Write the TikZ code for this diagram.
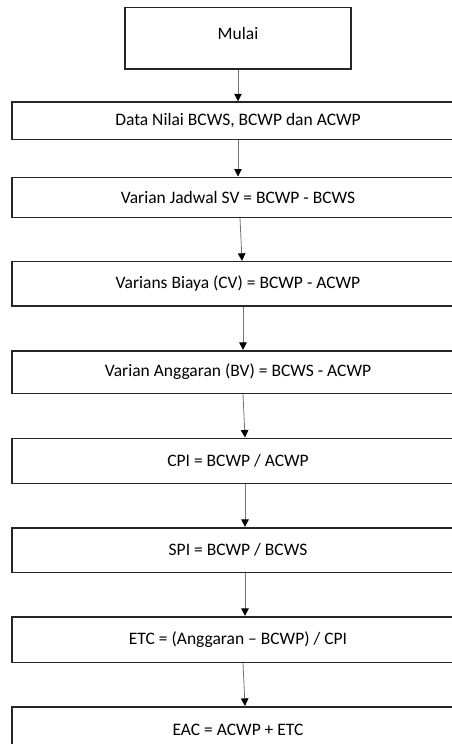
\documentclass[tikz,border=0pt]{standalone}
\usepackage{fontspec}
\setmainfont{Carlito}
\usetikzlibrary{arrows.meta}
\usetikzlibrary{positioning}

\begin{document}
\begin{tikzpicture}[x = 1pt, y = -1pt, black!85, line width = 1.6pt,
    box/.style = {draw, rectangle, inner sep = 0pt, minimum width = 452pt,
                  text = black, font = \fontsize{17.5}{20}\selectfont},
    flow/.style = {line width = 0.8pt, black!55,
                   -{Triangle[width = 7.5pt, length = 7.5pt, color = black]}}]

    \clip[use as bounding box] (0,0) rectangle (452,744);

    \def\Xmid{238}

    % start box
    \node[box, minimum width = 225.7pt, minimum height = 61.7pt, text depth = 10pt]
        (mulai) at (\Xmid, 38.2) {Mulai};

    % steps, top to bottom
    \foreach \NAME/\Y/\H/\TEXT in {
        data/120.7/37.3/{Data Nilai BCWS, BCWP dan ACWP},
        jadwal/197.3/40/{Varian Jadwal SV = BCWP - BCWS},
        biaya/283.8/44.3/{Varians Biaya (CV) = BCWP - ACWP},
        anggaran/372/42.6/{Varian Anggaran (BV) = BCWS - ACWP},
        cpi/460.8/45/{CPI = BCWP / ACWP},
        spi/550/44.6/{SPI = BCWP / BCWS},
        etc/639.5/45.6/{ETC = (Anggaran – BCWP) / CPI},
        eac/729.5/45.6/{EAC = ACWP + ETC}}
    {
        \node[box, minimum height = \H pt] (\NAME) at (\Xmid, \Y) {\TEXT};
    }

    \foreach \FROM/\TO/\DA/\DB in {mulai/data/0/0, data/jadwal/0/0, jadwal/biaya/2/4,
        biaya/anggaran/5/5, anggaran/cpi/5/7, cpi/spi/7/7, spi/etc/7/7, etc/eac/5/7}
        \draw[flow] ([xshift = \DA pt]\FROM.south) -- ([xshift = \DB pt]\TO.north);

\end{tikzpicture}
\end{document}
